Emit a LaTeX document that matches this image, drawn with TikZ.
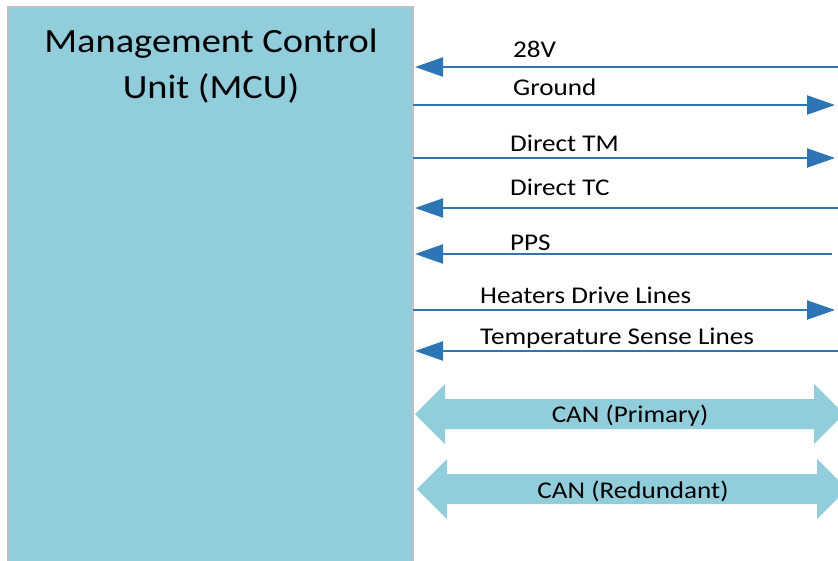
\documentclass[tikz,border=0pt]{standalone}
\usepackage{fontspec}
\setmainfont{Carlito}[FakeStretch=1.13]
\usetikzlibrary{arrows.meta}

\definecolor{sigblue}{RGB}{46,117,182}
\definecolor{unitfill}{RGB}{146,205,220}
\definecolor{unitedge}{RGB}{192,192,192}

\tikzset{
  unitbox/.style={draw=unitedge, line width=1.5pt, fill=unitfill, rectangle,
    inner sep=0pt, outer sep=0pt, anchor=north west},
  unittitle/.style={align=center, inner sep=0pt,
    font=\fontsize{34}{46}\selectfont},
  siglabel/.style={anchor=base west, inner sep=0pt,
    font=\fontsize{24}{28}\selectfont},
  sigline/.style={draw=sigblue, line width=2.2pt},
  sigtip/.style={sigline, -{Triangle[length=28pt,width=19pt]}},
  busarrow/.style={fill=unitfill, draw=none},
  buslabel/.style={inner sep=0pt, font=\fontsize{24}{28}\selectfont},
}

\begin{document}
\begin{tikzpicture}[x=1pt, y=-1pt]
  \useasboundingbox (0,0) rectangle (838,560);

  % Management Control Unit block
  \node[unitbox, minimum width=405pt, minimum height=565pt] (mcu) at (8,7) {};
  \node[unittitle, anchor=base] (mcutitle) at (211,98)
    {Management Control\\Unit (MCU)};

  % right-hand ends of the signal lines
  \coordinate (e28)  at (838,67);
  \coordinate (egnd) at (835,105);
  \coordinate (etm)  at (835,158);
  \coordinate (etc)  at (838,208);
  \coordinate (epps) at (832,254);
  \coordinate (ehtr) at (835,310);
  \coordinate (etmp) at (838,351);

  % signals into the MCU
  \draw[sigtip] (e28)  -- ([xshift=2pt]mcu.east |- e28);
  \draw[sigtip] (etc)  -- ([xshift=2pt]mcu.east |- etc);
  \draw[sigtip] (epps) -- ([xshift=2pt]mcu.east |- epps);
  \draw[sigtip] (etmp) -- ([xshift=2pt]mcu.east |- etmp);

  % signals out of the MCU
  \draw[sigtip] (mcu.east |- egnd) -- (egnd);
  \draw[sigtip] (mcu.east |- etm)  -- (etm);
  \draw[sigtip] (mcu.east |- ehtr) -- (ehtr);

  % signal names
  \node[siglabel] (l28)  at (513,57)  {28V};
  \node[siglabel] (lgnd) at (513,95)  {Ground};
  \node[siglabel] (ltm)  at (510,151) {Direct TM};
  \node[siglabel] (ltc)  at (510,195) {Direct TC};
  \node[siglabel] (lpps) at (510,250) {PPS};
  \node[siglabel] (lhtr) at (480,303) {Heaters Drive Lines};
  \node[siglabel] (ltmp) at (480,344) {Temperature Sense Lines};

  % CAN buses as broad double arrows
  \coordinate (canp) at (415,414);
  \fill[busarrow] (canp) -- ++(30,-30) -- ++(0,15) -- ++(369,0) -- ++(0,-15)
    -- ++(30,30) -- ++(-30,30) -- ++(0,-15) -- ++(-369,0) -- ++(0,15) -- cycle;
  \node[buslabel] (canptext) at (630,416) {CAN (Primary)};

  \coordinate (canr) at (417,489);
  \fill[busarrow] (canr) -- ++(30,-30) -- ++(0,15) -- ++(370,0) -- ++(0,-15)
    -- ++(30,30) -- ++(-30,30) -- ++(0,-15) -- ++(-370,0) -- ++(0,15) -- cycle;
  \node[buslabel] (canrtext) at (633,491) {CAN (Redundant)};
\end{tikzpicture}
\end{document}
